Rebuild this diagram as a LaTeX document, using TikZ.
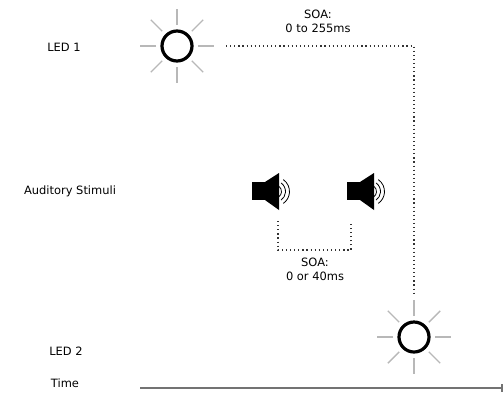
\documentclass[tikz,border=0pt]{standalone}
\usepackage{fontspec}
\setmainfont{DejaVu Sans}
\usetikzlibrary{calc,arrows.meta}
\tikzset{
	lbl/.style={font=\fontsize{11.5}{14}\selectfont, inner sep=0pt},
	soa/.style={lbl, align=center},
	ledring/.style={circle, draw=black, line width=3.2bp, minimum size=30bp, inner sep=0pt},
	ray/.style={draw=black!28, line width=1.4bp},
	wait/.style={line width=1.2bp, dash pattern=on 1.2bp off 2.9bp, draw=black!80},
	axis/.style={draw=black!55, line width=1.6bp}
}
\begin{document}
\begin{tikzpicture}[x=1bp, y=-1bp]
	\useasboundingbox (0,0) rectangle (504,396);
	% labels on the left
	\node[lbl] (lblone) at (64,47) {LED 1};
	\node[lbl] (lblaud) at (70,191) {Auditory Stimuli};
	\node[lbl] (lbltwo) at (66,351) {LED 2};
	\node[lbl] (lbltime) at (65,383) {Time};
	% the two LEDs
	\node[ledring] (ledone) at (177,46) {};
	\node[ledring] (ledtwo) at (414,337) {};
	\foreach \a in {0,45,...,315} {
		\draw[ray] ($(ledone)+(\a:21)$) -- ($(ledone)+(\a:37)$);
		\draw[ray] ($(ledtwo)+(\a:21)$) -- ($(ledtwo)+(\a:37)$);
	}
	% speakers
	\foreach \sx in {0,95} {
		\fill (252+\sx,182) rectangle (265+\sx,200);
		\fill (265+\sx,182) -- (279+\sx,173) -- (279+\sx,210) -- (265+\sx,200) -- cycle;
		\foreach \r in {6.5,10.5,14.5}
			\draw[line width=0.8bp] (275+\sx,191.5) ++(-55:\r) arc[start angle=-55, end angle=55, radius=\r];
	}
	% SOA between the LEDs
	\coordinate (soastart) at (226,46);
	\coordinate (soacorner) at (414,46);
	\coordinate (soaend) at (414,296);
	\draw[wait] (soastart) -- (soacorner) -- (soaend);
	\node[soa] (soatop) at (318,21) {SOA:\\0 to 255ms};
	% SOA between the sounds
	\coordinate (audleft) at (278,221);
	\coordinate (audright) at (351,221);
	\draw[wait] (audleft) -- (278,250) -- (351,250) -- (audright);
	\node[soa] (soalow) at (315,269) {SOA:\\0 or 40ms};
	% time axis
	\coordinate (tstart) at (140,388);
	\coordinate (tend) at (503,388);
	\draw[axis, -{Bar[width=8bp]}] (tstart) -- (tend);
\end{tikzpicture}
\end{document}
